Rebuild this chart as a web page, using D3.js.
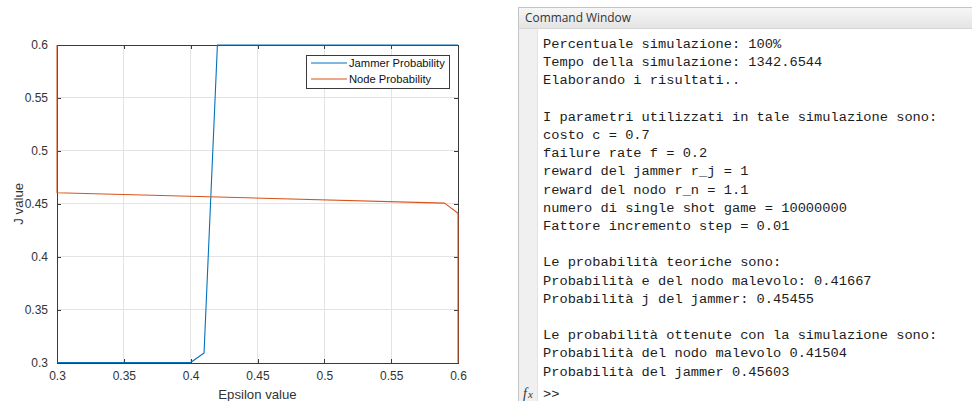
<!DOCTYPE html>
<html>
<head>
<meta charset="utf-8">
<script src="https://cdn.jsdelivr.net/npm/d3@7"></script>
<style>
  html, body { margin: 0; padding: 0; background: #fff; }
  svg { display: block; }
</style>
</head>
<body>
<svg id="fig" width="972" height="401"></svg>
<script>
// Epsilon sweep results (vertices of each polyline)
const jammerEps  = [0.30, 0.40, 0.41, 0.42, 0.60];
const jammerProb = [0.30, 0.30, 0.309, 0.60, 0.60];
const nodeEps    = [0.30, 0.30, 0.59, 0.60, 0.60];
const nodeProb   = [0.60, 0.4604, 0.4506, 0.441, 0.30];

const seriesNames  = ["Jammer Probability", "Node Probability"];
const seriesColors = ["#0072BD", "#D95319"];

const xTicks = [0.30, 0.35, 0.40, 0.45, 0.50, 0.55, 0.60];
const yTicks = [0.30, 0.35, 0.40, 0.45, 0.50, 0.55, 0.60];
const xLabel = "Epsilon value";
const yLabel = "J value";

// Console transcript shown in the command window
const panelTitle = "Command Window";
const consoleLines = [
  "Percentuale simulazione: 100%",
  "Tempo della simulazione: 1342.6544",
  "Elaborando i risultati..",
  "",
  "I parametri utilizzati in tale simulazione sono:",
  "costo c = 0.7",
  "failure rate f = 0.2",
  "reward del jammer r_j = 1",
  "reward del nodo r_n = 1.1",
  "numero di single shot game = 10000000",
  "Fattore incremento step = 0.01",
  "",
  "Le probabilità teoriche sono:",
  "Probabilità e del nodo malevolo: 0.41667",
  "Probabilità j del jammer: 0.45455",
  "",
  "Le probabilità ottenute con la simulazione sono:",
  "Probabilità del nodo malevolo 0.41504",
  "Probabilità del jammer 0.45603"
];
const promptText = ">>";

const svg = d3.select("#fig");

// ---------------- plot ----------------
const plot = { left: 57, right: 458, top: 45, bottom: 362.5 };
const x = d3.scaleLinear().domain([0.3, 0.6]).range([plot.left, plot.right]);
const y = d3.scaleLinear().domain([0.3, 0.6]).range([plot.bottom, plot.top]);
const fmt = d => String(+d.toFixed(2));
const axisColor = "#3a3a3a";
const textColor = "#333";
const sans = "'Liberation Sans', Arial, Helvetica, sans-serif";

const g = svg.append("g");

// grid
g.append("g").selectAll("line").data(xTicks.slice(1, -1)).join("line")
  .attr("x1", d => x(d)).attr("x2", d => x(d))
  .attr("y1", plot.top).attr("y2", plot.bottom)
  .attr("stroke", "#e3e3e3").attr("stroke-width", 1).attr("shape-rendering", "crispEdges");
g.append("g").selectAll("line").data(yTicks.slice(1, -1)).join("line")
  .attr("y1", d => y(d)).attr("y2", d => y(d))
  .attr("x1", plot.left).attr("x2", plot.right)
  .attr("stroke", "#e3e3e3").attr("stroke-width", 1).attr("shape-rendering", "crispEdges");

// axes with inward ticks on all four sides
const tickLen = 4;
const axB = d3.axisBottom(x).tickValues(xTicks).tickFormat(fmt).tickSizeInner(-tickLen).tickSizeOuter(0).tickPadding(9);
const axT = d3.axisTop(x).tickValues(xTicks).tickFormat("").tickSizeInner(-tickLen).tickSizeOuter(0);
const axL = d3.axisLeft(y).tickValues(yTicks).tickFormat(fmt).tickSizeInner(-tickLen).tickSizeOuter(0).tickPadding(9);
const axR = d3.axisRight(y).tickValues(yTicks).tickFormat("").tickSizeInner(-tickLen).tickSizeOuter(0);

function styleAxis(sel) {
  sel.selectAll("path, line").attr("stroke", axisColor).attr("stroke-width", 1).attr("shape-rendering", "crispEdges");
  sel.selectAll("text").attr("fill", textColor).style("font-family", sans).style("font-size", "12px");
}
g.append("g").attr("transform", `translate(0,${plot.bottom})`).call(axB).call(styleAxis);
g.append("g").attr("transform", `translate(0,${plot.top})`).call(axT).call(styleAxis);
g.append("g").attr("transform", `translate(${plot.left},0)`).call(axL).call(styleAxis);
g.append("g").attr("transform", `translate(${plot.right},0)`).call(axR).call(styleAxis);

// axis titles
g.append("text").text(xLabel)
  .attr("x", (plot.left + plot.right) / 2).attr("y", 399)
  .attr("text-anchor", "middle").attr("fill", textColor)
  .style("font-family", sans).style("font-size", "13.2px");
g.append("text").text(yLabel)
  .attr("transform", `translate(23,${(plot.top + plot.bottom) / 2}) rotate(-90)`)
  .attr("text-anchor", "middle").attr("fill", textColor)
  .style("font-family", sans).style("font-size", "13.2px");

// data lines
const series = [
  { name: seriesNames[0], color: seriesColors[0], pts: jammerEps.map((e, i) => [e, jammerProb[i]]) },
  { name: seriesNames[1], color: seriesColors[1], pts: nodeEps.map((e, i) => [e, nodeProb[i]]) }
];
const line = d3.line().x(d => x(d[0])).y(d => y(d[1]));
g.append("g").selectAll("path").data(series).join("path")
  .attr("d", d => line(d.pts))
  .attr("fill", "none").attr("stroke", d => d.color).attr("stroke-width", 1.1)
  .attr("stroke-linejoin", "round");

// legend
const lg = g.append("g").attr("transform", "translate(306,55)");
lg.append("rect").attr("width", 143).attr("height", 33)
  .attr("fill", "#fff").attr("stroke", axisColor).attr("stroke-width", 1).attr("shape-rendering", "crispEdges");
series.forEach((s, i) => {
  const cy = 8 + i * 16;
  lg.append("line").attr("x1", 5).attr("x2", 41).attr("y1", cy).attr("y2", cy)
    .attr("stroke", s.color).attr("stroke-width", 1.1);
  lg.append("text").text(s.name).attr("x", 43).attr("y", cy + 4)
    .attr("fill", "#111").style("font-family", sans).style("font-size", "11.2px");
});

// ---------------- command window ----------------
const cw = svg.append("g");
const cwLeft = 518, cwTop = 7, headH = 21, gutterW = 19;
const defs = svg.append("defs");
const grad = defs.append("linearGradient").attr("id", "hdr").attr("x1", 0).attr("x2", 0).attr("y1", 0).attr("y2", 1);
grad.append("stop").attr("offset", 0).attr("stop-color", "#f7f7f7");
grad.append("stop").attr("offset", 1).attr("stop-color", "#e4e4e4");

cw.append("rect").attr("x", cwLeft).attr("y", cwTop).attr("width", 972 - cwLeft).attr("height", headH)
  .attr("fill", "url(#hdr)");
cw.append("rect").attr("x", cwLeft).attr("y", cwTop + headH).attr("width", gutterW).attr("height", 401 - cwTop - headH)
  .attr("fill", "#f0f0f0");
cw.append("path")
  .attr("d", `M${972},${cwTop + 0.5}H${cwLeft + 0.5}V401`)
  .attr("fill", "none").attr("stroke", "#c4c4c4").attr("shape-rendering", "crispEdges");
cw.append("line").attr("x1", cwLeft).attr("x2", 972).attr("y1", cwTop + headH + 0.5).attr("y2", cwTop + headH + 0.5)
  .attr("stroke", "#d6d6d6").attr("shape-rendering", "crispEdges");
cw.append("line").attr("x1", cwLeft + gutterW + 0.5).attr("x2", cwLeft + gutterW + 0.5).attr("y1", cwTop + headH).attr("y2", 401)
  .attr("stroke", "#e2e2e2").attr("shape-rendering", "crispEdges");

cw.append("text").text(panelTitle).attr("x", 525).attr("y", 22)
  .attr("fill", "#333").style("font-family", "'Open Sans', 'Noto Sans', sans-serif").style("font-size", "12px")
  .attr("textLength", 106).attr("lengthAdjust", "spacingAndGlyphs");

const mono = "'Liberation Mono', 'Courier New', monospace";
cw.append("g").selectAll("text").data(consoleLines).join("text")
  .text(d => d)
  .attr("x", 543).attr("y", (d, i) => 48 + i * 18.2)
  .attr("fill", "#1c1c1c").style("font-family", mono).style("font-size", "13.7px")
  .style("white-space", "pre");

// prompt line with fx marker
cw.append("text").text("f").attr("x", 523).attr("y", 398)
  .attr("fill", "#333").style("font-family", "'Liberation Serif', serif").style("font-style", "italic").style("font-size", "14px");
cw.append("text").text("x").attr("x", 528).attr("y", 398)
  .attr("fill", "#333").style("font-family", "'Liberation Serif', serif").style("font-style", "italic").style("font-size", "11px");
cw.append("text").text(promptText).attr("x", 543).attr("y", 398)
  .attr("fill", "#1c1c1c").style("font-family", mono).style("font-size", "13.7px");
</script>
</body>
</html>
